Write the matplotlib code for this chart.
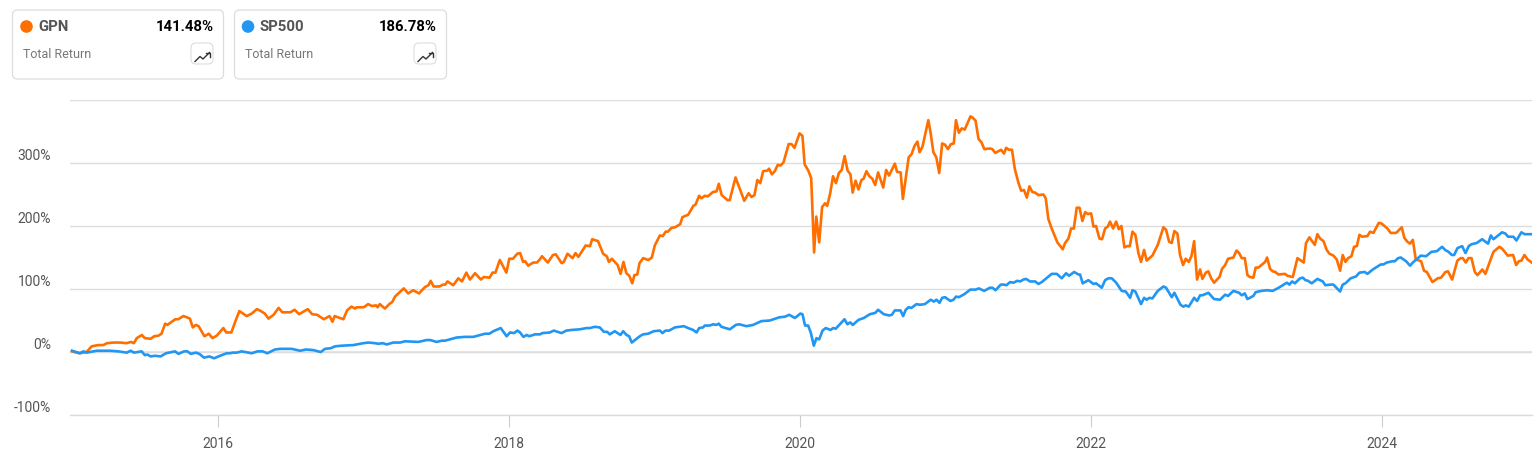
import numpy as np
from matplotlib import pyplot as plt
from matplotlib.patches import Circle, FancyBboxPatch


GPN_YEARS = [
    2015.00, 2015.05, 2015.10, 2015.135, 2015.18, 2015.215, 2015.24, 2015.285, 2015.33, 2015.375,
    2015.405, 2015.425, 2015.445, 2015.48, 2015.50, 2015.54, 2015.565, 2015.595, 2015.615, 2015.64,
    2015.655, 2015.71, 2015.73, 2015.765, 2015.79, 2015.81, 2015.83, 2015.85, 2015.87, 2015.91,
    2015.94, 2015.965, 2015.995, 2016.04, 2016.06, 2016.095, 2016.12, 2016.15, 2016.20, 2016.235,
    2016.27, 2016.29, 2016.325, 2016.35, 2016.385, 2016.42, 2016.445, 2016.50, 2016.53, 2016.56,
    2016.62, 2016.65, 2016.685, 2016.73, 2016.77, 2016.79, 2016.805, 2016.865, 2016.89, 2016.92,
    2016.945, 2016.955, 2017.005, 2017.035, 2017.06, 2017.09, 2017.10, 2017.115, 2017.15, 2017.185,
    2017.20, 2017.22, 2017.28, 2017.31, 2017.345, 2017.385, 2017.425, 2017.45, 2017.465, 2017.485,
    2017.525, 2017.55, 2017.565, 2017.58, 2017.62, 2017.655, 2017.68, 2017.71, 2017.735, 2017.77,
    2017.81, 2017.83, 2017.87, 2017.89, 2017.91, 2017.94, 2017.985, 2018.005, 2018.03, 2018.06,
    2018.08, 2018.10, 2018.115, 2018.135, 2018.17, 2018.195, 2018.215, 2018.23, 2018.27, 2018.305,
    2018.325, 2018.365, 2018.38, 2018.405, 2018.44, 2018.46, 2018.48, 2018.53, 2018.56, 2018.575,
    2018.615, 2018.65, 2018.675, 2018.69, 2018.71, 2018.75, 2018.77, 2018.79, 2018.81, 2018.83,
    2018.85, 2018.865, 2018.885, 2018.90, 2018.925, 2018.96, 2018.985, 2019.005, 2019.04, 2019.06,
    2019.08, 2019.095, 2019.12, 2019.145, 2019.18, 2019.195, 2019.235, 2019.27, 2019.285, 2019.31,
    2019.325, 2019.35, 2019.37, 2019.405, 2019.43, 2019.445, 2019.465, 2019.505, 2019.52, 2019.56,
    2019.62, 2019.65, 2019.67, 2019.69, 2019.71, 2019.73, 2019.75, 2019.78, 2019.79, 2019.81,
    2019.83, 2019.85, 2019.87, 2019.89, 2019.925, 2019.945, 2019.965, 2020.00, 2020.02, 2020.035,
    2020.06, 2020.08, 2020.10, 2020.115, 2020.135, 2020.155, 2020.175, 2020.19, 2020.21, 2020.23,
    2020.25, 2020.27, 2020.29, 2020.31, 2020.33, 2020.35, 2020.365, 2020.385, 2020.405, 2020.425,
    2020.44, 2020.46, 2020.48, 2020.50, 2020.52, 2020.54, 2020.575, 2020.595, 2020.615, 2020.655,
    2020.67, 2020.695, 2020.71, 2020.75, 2020.77, 2020.79, 2020.81, 2020.825, 2020.845, 2020.885,
    2020.90, 2020.92, 2020.94, 2020.96, 2020.98, 2021.00, 2021.02, 2021.04, 2021.06, 2021.075,
    2021.095, 2021.115, 2021.135, 2021.175, 2021.19, 2021.21, 2021.23, 2021.25, 2021.27, 2021.31,
    2021.325, 2021.345, 2021.385, 2021.405, 2021.42, 2021.44, 2021.46, 2021.48, 2021.504, 2021.523,
    2021.543, 2021.562, 2021.58, 2021.60, 2021.619, 2021.642, 2021.676, 2021.692, 2021.71, 2021.733,
    2021.772, 2021.809, 2021.825, 2021.848, 2021.866, 2021.885, 2021.905, 2021.924, 2021.944, 2021.963,
    2021.981, 2022.004, 2022.02, 2022.038, 2022.061, 2022.079, 2022.10, 2022.118, 2022.134, 2022.155,
    2022.176, 2022.194, 2022.212, 2022.233, 2022.251, 2022.27, 2022.288, 2022.308, 2022.329, 2022.347,
    2022.368, 2022.386, 2022.425, 2022.462, 2022.501, 2022.519, 2022.54, 2022.558, 2022.576, 2022.597,
    2022.615, 2022.636, 2022.654, 2022.675, 2022.693, 2022.712, 2022.732, 2022.753, 2022.769, 2022.792,
    2022.81, 2022.829, 2022.849, 2022.886, 2022.904, 2022.925, 2022.945, 2022.982, 2023.003, 2023.021,
    2023.039, 2023.06, 2023.078, 2023.096, 2023.119, 2023.135, 2023.154, 2023.174, 2023.20, 2023.213,
    2023.234, 2023.252, 2023.27, 2023.291, 2023.337, 2023.353, 2023.39, 2023.422, 2023.465, 2023.481,
    2023.504, 2023.541, 2023.559, 2023.578, 2023.601, 2023.623, 2023.642, 2023.669, 2023.692, 2023.715,
    2023.733, 2023.752, 2023.77, 2023.793, 2023.811, 2023.83, 2023.848, 2023.866, 2023.903, 2023.921,
    2023.944, 2023.981, 2024.00, 2024.04, 2024.063, 2024.10, 2024.139, 2024.157, 2024.178, 2024.196,
    2024.215, 2024.235, 2024.272, 2024.292, 2024.311, 2024.35, 2024.386, 2024.409, 2024.439, 2024.457,
    2024.485, 2024.521, 2024.544, 2024.558, 2024.579, 2024.597, 2024.618, 2024.641, 2024.659, 2024.693,
    2024.714, 2024.769, 2024.81, 2024.829, 2024.867, 2024.904, 2024.925, 2024.943, 2024.961, 2024.982,
    2025.003, 2025.032,
]
GPN_RETURN = [
    1, -2, 0, 9, 11, 11, 14, 15, 15, 14,
    16, 14, 22, 27, 22, 21, 25, 26, 29, 45,
    43, 52, 52, 57, 55, 53, 39, 43, 41, 25,
    29, 22, 26, 38, 31, 31, 47, 65, 57, 61,
    68, 66, 61, 53, 59, 70, 63, 63, 67, 60,
    68, 60, 59, 52, 57, 48, 57, 52, 66, 72,
    69, 71, 71, 76, 73, 74, 71, 76, 69, 77,
    79, 88, 101, 93, 98, 93, 103, 106, 113, 104,
    104, 107, 107, 112, 106, 117, 112, 126, 115, 125,
    115, 119, 118, 126, 126, 146, 126, 148, 148, 156,
    157, 143, 144, 137, 142, 142, 147, 152, 142, 154,
    155, 141, 143, 156, 149, 157, 151, 169, 168, 179,
    176, 156, 152, 143, 148, 138, 124, 143, 125, 121,
    109, 122, 123, 141, 149, 146, 150, 169, 185, 184,
    191, 191, 197, 198, 203, 214, 218, 232, 234, 248,
    244, 248, 247, 254, 255, 267, 249, 241, 241, 277,
    240, 252, 246, 249, 273, 268, 287, 288, 291, 282,
    287, 297, 296, 301, 330, 330, 324, 347, 343, 298,
    288, 276, 158, 215, 174, 230, 236, 232, 251, 279,
    268, 284, 289, 311, 288, 282, 253, 272, 258, 273,
    275, 287, 279, 275, 265, 285, 261, 289, 280, 299,
    286, 285, 243, 309, 314, 327, 334, 317, 326, 368,
    349, 317, 309, 284, 331, 329, 322, 330, 331, 368,
    348, 355, 353, 374, 372, 367, 338, 333, 322, 323,
    322, 316, 321, 315, 324, 321, 321, 290, 269, 256,
    257, 245, 263, 254, 253, 249, 250, 244, 211, 196,
    174, 163, 173, 180, 196, 196, 229, 229, 208, 222,
    219, 220, 199, 200, 180, 179, 196, 199, 207, 196,
    207, 195, 200, 166, 168, 168, 191, 186, 157, 143,
    162, 145, 153, 170, 198, 194, 175, 173, 192, 188,
    154, 138, 148, 143, 152, 176, 115, 131, 116, 126,
    128, 117, 110, 119, 132, 138, 148, 150, 161, 157,
    149, 149, 122, 119, 118, 134, 134, 138, 143, 150,
    132, 128, 127, 123, 124, 121, 119, 149, 142, 173,
    182, 170, 187, 180, 176, 162, 156, 153, 147, 129,
    154, 143, 149, 152, 167, 168, 186, 183, 184, 191,
    189, 205, 204, 196, 189, 189, 198, 181, 175, 172,
    178, 147, 144, 129, 127, 111, 117, 118, 127, 128,
    115, 145, 149, 149, 142, 149, 149, 127, 122, 131,
    124, 159, 167, 164, 153, 154, 138, 144, 145, 154,
    147, 142,
]

SP500_YEARS = [
    2015.00, 2015.055, 2015.078, 2015.10, 2015.17, 2015.26, 2015.318, 2015.376, 2015.403, 2015.426,
    2015.479, 2015.50, 2015.518, 2015.54, 2015.57, 2015.609, 2015.646, 2015.708, 2015.731, 2015.77,
    2015.793, 2015.816, 2015.852, 2015.875, 2015.907, 2015.944, 2015.976, 2016.017, 2016.063, 2016.086,
    2016.104, 2016.132, 2016.166, 2016.235, 2016.274, 2016.31, 2016.342, 2016.395, 2016.43, 2016.51,
    2016.567, 2016.608, 2016.659, 2016.709, 2016.739, 2016.778, 2016.808, 2016.853, 2016.934, 2017.002,
    2017.037, 2017.082, 2017.105, 2017.135, 2017.163, 2017.208, 2017.254, 2017.289, 2017.38, 2017.438,
    2017.461, 2017.506, 2017.541, 2017.564, 2017.644, 2017.701, 2017.758, 2017.838, 2017.868, 2017.896,
    2017.946, 2017.987, 2018.01, 2018.038, 2018.061, 2018.079, 2018.102, 2018.125, 2018.143, 2018.182,
    2018.216, 2018.233, 2018.284, 2018.311, 2018.364, 2018.398, 2018.433, 2018.49, 2018.536, 2018.559,
    2018.593, 2018.627, 2018.655, 2018.678, 2018.696, 2018.73, 2018.769, 2018.788, 2018.811, 2018.829,
    2018.847, 2018.902, 2018.925, 2018.959, 2018.998, 2019.04, 2019.058, 2019.079, 2019.104, 2019.143,
    2019.205, 2019.234, 2019.269, 2019.292, 2019.31, 2019.337, 2019.349, 2019.383, 2019.406, 2019.429,
    2019.445, 2019.463, 2019.521, 2019.562, 2019.585, 2019.635, 2019.681, 2019.738, 2019.796, 2019.86,
    2019.899, 2019.929, 2019.968, 2020.006, 2020.02, 2020.038, 2020.059, 2020.077, 2020.098, 2020.116,
    2020.135, 2020.158, 2020.18, 2020.213, 2020.231, 2020.249, 2020.309, 2020.329, 2020.348, 2020.366,
    2020.405, 2020.442, 2020.483, 2020.52, 2020.54, 2020.579, 2020.616, 2020.634, 2020.655, 2020.694,
    2020.712, 2020.73, 2020.749, 2020.769, 2020.804, 2020.827, 2020.861, 2020.902, 2020.923, 2020.941,
    2020.962, 2020.98, 2021.0, 2021.037, 2021.058, 2021.076, 2021.095, 2021.134, 2021.173, 2021.211,
    2021.232, 2021.269, 2021.308, 2021.326, 2021.347, 2021.383, 2021.404, 2021.422, 2021.447, 2021.47,
    2021.497, 2021.516, 2021.539, 2021.557, 2021.584, 2021.619, 2021.642, 2021.665, 2021.733, 2021.768,
    2021.802, 2021.832, 2021.852, 2021.887, 2021.917, 2021.928, 2021.946, 2021.985, 2022.02, 2022.038,
    2022.077, 2022.10, 2022.123, 2022.146, 2022.176, 2022.214, 2022.242, 2022.272, 2022.288, 2022.308,
    2022.347, 2022.368, 2022.386, 2022.405, 2022.425, 2022.462, 2022.501, 2022.519, 2022.558, 2022.576,
    2022.618, 2022.638, 2022.654, 2022.675, 2022.712, 2022.732, 2022.753, 2022.769, 2022.81, 2022.849,
    2022.89, 2022.925, 2022.945, 2022.982, 2023.021, 2023.039, 2023.06, 2023.078, 2023.119, 2023.135,
    2023.174, 2023.213, 2023.252, 2023.293, 2023.349, 2023.367, 2023.385, 2023.404, 2023.44, 2023.459,
    2023.477, 2023.495, 2023.52, 2023.559, 2023.596, 2023.614, 2023.651, 2023.669, 2023.715, 2023.733,
    2023.752, 2023.788, 2023.825, 2023.848, 2023.885, 2023.903, 2023.94, 2023.995, 2024.013, 2024.036,
    2024.073, 2024.091, 2024.114, 2024.132, 2024.169, 2024.196, 2024.215, 2024.27, 2024.306, 2024.343,
    2024.38, 2024.416, 2024.437, 2024.46, 2024.483, 2024.499, 2024.522, 2024.554, 2024.577, 2024.599,
    2024.618, 2024.654, 2024.691, 2024.732, 2024.751, 2024.769, 2024.828, 2024.851, 2024.87, 2024.906,
    2024.927, 2024.961, 2024.984, 2025.032,
]
SP500_RETURN = [
    2, -2, 1, -1, 2, 2, 1, -1, 2, -1,
    1, -5, -4, -7, -6, -7, -2, 1, -3, 1,
    1, -3, -1, -3, -9, -7, -10, -6, -2, -2,
    -1, -1, 1, -2, 1, 1, -2, 4, 5, 5,
    2, 4, 3, 0, 5, 6, 9, 10, 11, 14,
    15, 14, 13, 14, 12, 15, 15, 17, 16, 19,
    19, 16, 18, 18, 23, 24, 24, 29, 29, 33,
    38, 25, 31, 30, 34, 31, 24, 27, 25, 28,
    28, 30, 31, 34, 30, 34, 35, 36, 38, 38,
    40, 39, 32, 32, 28, 33, 27, 33, 27, 25,
    15, 25, 28, 29, 33, 34, 30, 34, 34, 39,
    41, 38, 35, 31, 38, 39, 42, 42, 44, 43,
    45, 40, 36, 43, 44, 41, 43, 49, 50, 55,
    56, 59, 54, 61, 60, 42, 42, 31, 10, 22,
    20, 34, 38, 35, 38, 37, 52, 44, 47, 43,
    51, 54, 60, 62, 67, 60, 58, 59, 66, 66,
    57, 67, 71, 70, 76, 75, 76, 83, 80, 83,
    78, 86, 87, 81, 83, 88, 87, 92, 99, 99,
    101, 97, 102, 102, 98, 107, 107, 106, 111, 110,
    113, 112, 115, 116, 112, 112, 108, 111, 124, 124,
    117, 125, 121, 127, 123, 123, 109, 114, 108, 109,
    102, 114, 117, 117, 110, 97, 96, 86, 98, 96,
    76, 86, 83, 86, 85, 97, 104, 102, 87, 94,
    75, 72, 74, 72, 86, 81, 90, 90, 94, 84,
    83, 91, 89, 97, 94, 90, 93, 84, 89, 95,
    97, 98, 97, 102, 110, 107, 112, 109, 117, 118,
    114, 113, 109, 116, 112, 106, 107, 107, 96, 107,
    109, 117, 120, 126, 127, 124, 131, 139, 139, 142,
    144, 144, 149, 150, 144, 137, 142, 153, 152, 159,
    160, 167, 162, 159, 154, 154, 165, 168, 157, 168,
    171, 173, 179, 172, 185, 179, 190, 188, 183, 183,
    177, 190, 187, 187,
]

Y_TICKS = [-100, 0, 100, 200, 300, 400]
Y_TICK_LABELS = ["-100%", "0%", "100%", "200%", "300%"]
X_TICKS = [2016, 2018, 2020, 2022, 2024]

NAMES = ["GPN", "SP500"]
TOTALS = ["141.48%", "186.78%"]

ORANGE = "#ff6f00"
BLUE = "#2196f3"
WIDTH, HEIGHT = 1539, 460
FONT = "Roboto"


def draw_card(over, left, right, dot_x, name_x, label_x, color, name, total):
    over.add_patch(FancyBboxPatch((left + 5, 16), right - left - 10, 59,
                                  boxstyle="round,pad=5,rounding_size=5",
                                  fc="white", ec="#dddddd", lw=0.9))
    over.add_patch(Circle((dot_x, 27.5), 6.3, fc=color, ec="none"))
    over.text(name_x, 27, name, fontsize=10.7, fontweight="bold", color="#555555",
              family=FONT, va="center", ha="left")
    over.text(right - 10, 27, total, fontsize=10.7, fontweight="bold", color="black",
              family=FONT, va="center", ha="right")
    over.text(label_x, 54, "Total Return", fontsize=9, color="#777777",
              family=FONT, va="center", ha="left")

    # little trending-up button
    bx = right - 32.5
    over.add_patch(FancyBboxPatch((bx + 4, 48), 14, 13,
                                  boxstyle="round,pad=4,rounding_size=5",
                                  fc="white", ec="#dddddd", lw=0.8))
    over.plot(np.array([4, 9, 12, 18.5]) + bx, [62.5, 57.5, 60, 53.5],
              color="#333333", lw=1.0)
    over.plot(np.array([14.5, 19, 19]) + bx, [53.5, 53.5, 58],
              color="#333333", lw=1.0)


def main():
    fig = plt.figure(figsize=(WIDTH / 100, HEIGHT / 100), dpi=100)

    ax = fig.add_axes([70 / WIDTH, 1 - 416 / HEIGHT, 1462 / WIDTH, 315 / HEIGHT])
    ax.set_xlim(2014.986, 2025.034)
    ax.set_ylim(-100, 400)

    for spine in ["top", "left", "right"]:
        ax.spines[spine].set_visible(False)
    ax.spines["bottom"].set_color("#dddddd")
    ax.spines["bottom"].set_linewidth(1.0)

    ax.set_yticks(Y_TICKS)
    ax.set_yticklabels([])
    ax.tick_params(axis="y", length=0)
    ax.grid(axis="y", color="#dddddd", lw=1.0)
    ax.axhline(0, color="#e6e6e6", lw=1.6, zorder=1)

    ax.set_xticks(X_TICKS)
    ax.set_xticklabels([str(t) for t in X_TICKS], family=FONT, fontsize=10, color="#555555")
    ax.tick_params(axis="x", length=8.5, width=0.8, color="#cccccc", pad=6.5)

    # value labels sit a little above their gridlines
    for value, label in zip(Y_TICKS, Y_TICK_LABELS):
        ax.annotate(label, (0, value), xycoords=("axes fraction", "data"),
                    xytext=(-13.5, 5.8), textcoords="offset points",
                    ha="right", va="center", family=FONT, fontsize=10, color="#555555")

    ax.plot(GPN_YEARS, GPN_RETURN, color=ORANGE, lw=1.9, solid_joinstyle="round", zorder=3)
    ax.plot(SP500_YEARS, SP500_RETURN, color=BLUE, lw=1.9, solid_joinstyle="round", zorder=4)

    over = fig.add_axes([0, 0, 1, 1])
    over.set_xlim(0, WIDTH)
    over.set_ylim(HEIGHT, 0)
    over.axis("off")
    over.patch.set_alpha(0)

    draw_card(over, 12.5, 223.5, 26.5, 38, 23, ORANGE, NAMES[0], TOTALS[0])
    draw_card(over, 234.5, 446.5, 248, 260, 245, BLUE, NAMES[1], TOTALS[1])

    fig.savefig("out.png", dpi=100)


if __name__ == "__main__":
    main()
